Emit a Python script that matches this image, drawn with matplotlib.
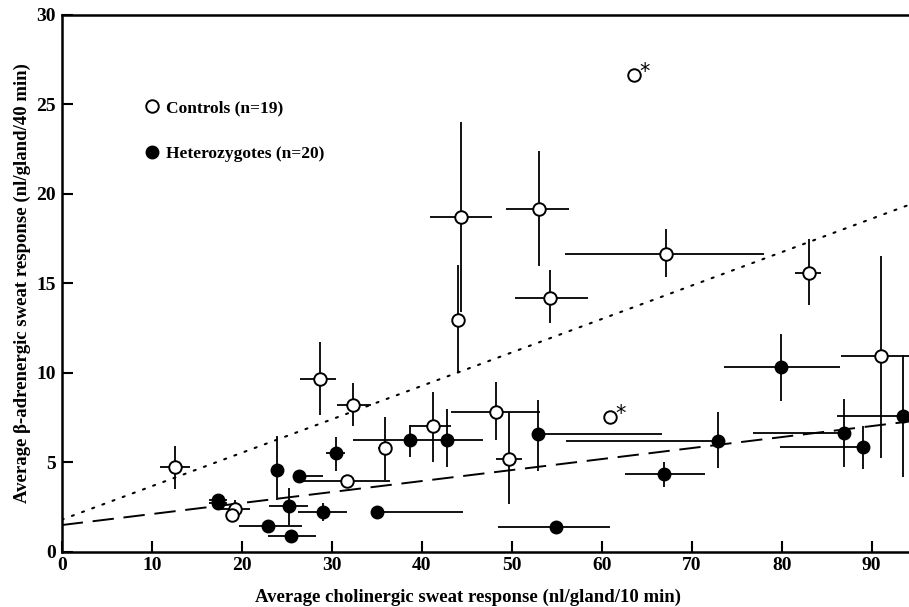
"""Cholinergic vs beta-adrenergic sweat response, controls vs heterozygotes."""

import matplotlib

matplotlib.use("Agg")
import matplotlib.pyplot as plt
import numpy as np

# controls (open circles), error bars as (lower, upper)
ctrl_x = [12.6, 19.3, 18.9, 28.7, 32.4, 31.7, 35.9, 41.3, 44.0, 44.4,
          48.3, 49.7, 53.0, 54.25, 67.1, 83.0, 91.0]
ctrl_y = [4.75, 2.4, 2.04, 9.64, 8.2, 3.96, 5.8, 7.02, 12.92, 18.7,
          7.79, 5.18, 19.17, 14.15, 16.65, 15.6, 10.94]
ctrl_xerr_lo = [1.7, 1.6, 0.6, 2.2, 1.8, 5.2, 0.8, 2.6, 0.2, 3.5, 5.0, 1.4, 3.6, 3.9, 11.2, 1.5, 4.4]
ctrl_xerr_hi = [1.7, 1.6, 0.6, 1.8, 2.0, 4.8, 0.8, 2.0, 0.2, 3.4, 4.8, 1.4, 3.4, 4.2, 10.9, 1.4, 4.4]
ctrl_yerr_lo = [1.27, 0.5, 0.2, 2.0, 1.2, 0.3, 1.8, 2.0, 2.9, 5.3, 1.55, 2.5, 3.2, 1.4, 1.3, 1.8, 5.7]
ctrl_yerr_hi = [1.17, 0.5, 0.2, 2.1, 1.2, 0.3, 1.7, 1.9, 3.1, 5.3, 1.7, 2.6, 3.2, 1.6, 1.4, 1.9, 5.6]

# controls flagged with an asterisk (no error bars)
star_x = [60.9, 63.6]
star_y = [7.51, 26.66]

# heterozygotes (filled circles)
het_x = [17.4, 17.4, 23.9, 26.4, 30.5, 25.2, 29.0, 22.96, 25.5, 35.0,
         38.7, 42.8, 52.9, 54.9, 66.96, 72.96, 79.9, 86.96, 89.0, 93.5]
het_y = [2.9, 2.7, 4.56, 4.22, 5.5, 2.55, 2.23, 1.45, 0.89, 2.23,
         6.24, 6.24, 6.56, 1.39, 4.32, 6.18, 10.29, 6.61, 5.87, 7.58]
het_xerr_lo = [1.0, 1.0, 0.3, 0.3, 1.1, 2.2, 2.7, 3.3, 2.6, 0.3, 6.3, 4.0, 0.0, 6.4, 4.4, 16.9, 6.3, 10.2, 9.2, 7.4]
het_xerr_hi = [1.0, 1.0, 0.3, 2.6, 1.0, 2.2, 2.7, 3.7, 2.8, 9.6, 0.0, 4.0, 13.8, 6.0, 4.5, 0.0, 6.6, 0.3, 0.0, 2.0]
het_yerr_lo = [0.3, 0.4, 1.7, 0.2, 1.0, 1.07, 0.55, 0.2, 0.2, 0.2, 0.94, 1.53, 2.04, 0.2, 0.7, 1.52, 1.9, 1.86, 1.27, 3.4]
het_yerr_hi = [0.3, 0.4, 1.9, 0.2, 0.9, 1.0, 0.5, 0.2, 0.2, 0.2, 0.84, 1.72, 1.94, 0.2, 0.7, 1.64, 1.9, 1.92, 1.15, 3.4]

# regression lines: (intercept, slope)
ctrl_fit = (1.78, 0.187)
het_fit = (1.48, 0.0615)

x_ticks = [0, 10, 20, 30, 40, 50, 60, 70, 80, 90]
y_ticks = [0, 5, 10, 15, 20, 25, 30]

SERIF = ["Liberation Serif", "DejaVu Serif"]


def main():
    plt.rcParams["font.family"] = SERIF
    plt.rcParams["font.weight"] = "bold"
    fig = plt.figure(figsize=(9.09, 6.07), dpi=100)
    ax = fig.add_axes([0.0679, 0.0914, 0.9406, 0.8839])

    fit_x = np.array([0.0, 95.0])
    ax.plot(fit_x, ctrl_fit[0] + ctrl_fit[1] * fit_x, color="black",
            linewidth=1.5, linestyle=(0, (1, 4.2)), dash_capstyle="round")
    ax.plot(fit_x, het_fit[0] + het_fit[1] * fit_x, color="black",
            linewidth=1.4, linestyle=(0, (11, 5)))

    bar_kw = dict(fmt="none", ecolor="black", elinewidth=1.3, capsize=0, zorder=2)
    ax.errorbar(ctrl_x, ctrl_y, xerr=[ctrl_xerr_lo, ctrl_xerr_hi],
                yerr=[ctrl_yerr_lo, ctrl_yerr_hi], **bar_kw)
    ax.errorbar(het_x, het_y, xerr=[het_xerr_lo, het_xerr_hi],
                yerr=[het_yerr_lo, het_yerr_hi], **bar_kw)

    ax.plot(ctrl_x + star_x, ctrl_y + star_y, linestyle="none", marker="o",
            markersize=9, markerfacecolor="white", markeredgecolor="black",
            markeredgewidth=1.4, zorder=3, label="Controls (n=19)")
    ax.plot(het_x, het_y, linestyle="none", marker="o", markersize=9,
            markerfacecolor="black", markeredgecolor="black", zorder=3,
            label="Heterozygotes (n=20)")
    for sx, sy in zip(star_x, star_y):
        ax.annotate("*", (sx, sy), xytext=(4, -5), textcoords="offset points",
                    fontsize=15, fontweight="normal", family=["DejaVu Sans"],
                    va="bottom", ha="left")

    ax.set_xlim(0, 95)
    ax.set_ylim(0, 30)
    ax.set_xticks(x_ticks)
    ax.set_yticks(y_ticks)
    ax.tick_params(direction="in", length=8, width=1.5, labelsize=14, pad=4)
    for label in ax.get_xticklabels() + ax.get_yticklabels():
        label.set_fontweight("bold")
    for side in ["left", "bottom", "top", "right"]:
        ax.spines[side].set_linewidth(1.8)

    ax.set_xlabel("Average cholinergic sweat response (nl/gland/10 min)",
                  fontsize=13.5, fontweight="bold")
    ax.xaxis.set_label_coords(0.475, -0.07)
    ax.set_ylabel("Average \u03b2-adrenergic sweat response (nl/gland/40 min)",
                  fontsize=13.5, fontweight="bold")
    ax.yaxis.set_label_coords(-0.036, 0.5)

    ax.legend(loc="upper left", bbox_to_anchor=(0.091, 0.854), frameon=False,
              handlelength=0.6, handletextpad=0.5, labelspacing=1.7,
              prop={"size": 12.5, "weight": "bold"}, borderaxespad=0)

    fig.savefig("out.png", dpi=100)
    plt.close(fig)


if __name__ == "__main__":
    main()
